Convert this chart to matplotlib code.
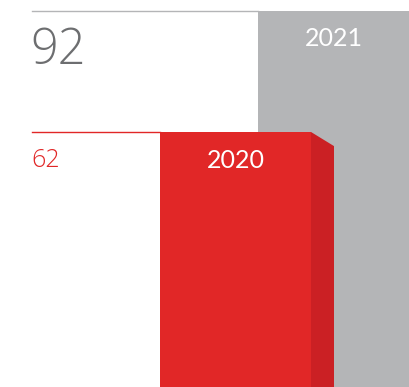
import matplotlib.pyplot as plt
from matplotlib.patches import Polygon

years = ["2020", "2021"]
values = [62, 92]
bar_colors = ["#e12727", "#b4b5b7"]
side_color = "#cb2024"
label_colors = ["#e12727", "#6d6e70"]
line_colors = ["#e12727", "#b4b5b7"]

W, H = 410, 387
fig = plt.figure(figsize=(W / 100, H / 100), dpi=100)
ax = fig.add_axes([0, 0, 1, 1])
ax.set_xlim(0, W)
ax.set_ylim(-1.24, 94.73)
ax.axis("off")

lefts = [160, 258]
widths = [151, 152]
bottom = -5
depth_x, depth_y = 23, 3.5

for i in [1, 0]:
    v = values[i]
    ax.bar(lefts[i], v - bottom, width=widths[i], bottom=bottom, align="edge",
           color=bar_colors[i], linewidth=0, zorder=2)
# side face of the front bar
x1 = lefts[0] + widths[0]
v0 = values[0]
ax.add_patch(Polygon([(x1, v0), (x1 + depth_x, v0 - depth_y),
                      (x1 + depth_x, bottom), (x1, bottom)],
                     closed=True, color=side_color, linewidth=0, zorder=3))

# reference lines from the value labels to the bars
ax.plot([32, lefts[1]], [values[1], values[1]], color=line_colors[1], lw=1.0, zorder=1)
ax.plot([32, lefts[0]], [values[0], values[0]], color=line_colors[0], lw=1.0, zorder=1)

num_fam = ["Open Sans", "DejaVu Sans"]
yr_fam = ["Lato", "DejaVu Sans"]
ax.text(30, values[1] - 9.8, str(values[1]), color=label_colors[1], fontsize=35,
        family=num_fam, weight="light", ha="left", va="center")
ax.text(31, values[0] - 7.0, str(values[0]), color=label_colors[0], fontsize=18,
        family=num_fam, weight="light", ha="left", va="center")

ax.text(lefts[1] + widths[1] / 2, values[1] - 6.8, years[1], color="white",
        fontsize=18, family=yr_fam, weight="normal", ha="center", va="center")
ax.text(lefts[0] + widths[0] / 2, values[0] - 7.0, years[0], color="white",
        fontsize=18, family=yr_fam, weight="normal", ha="center", va="center")

fig.savefig("out.png", dpi=100)
